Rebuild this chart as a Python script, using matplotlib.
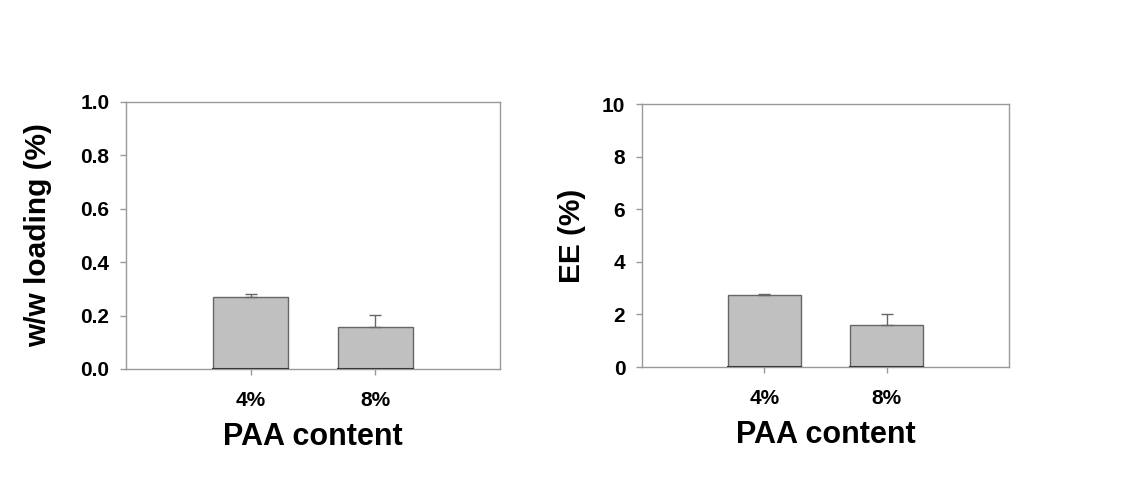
import numpy as np
import matplotlib.pyplot as plt

plt.rcParams['font.family'] = ['Liberation Sans', 'DejaVu Sans']
plt.rcParams['font.weight'] = 'bold'

categories = ['4%', '8%']
loading = [0.271, 0.158]
loading_err = [0.010, 0.044]
ee = [2.74, 1.60]
ee_err = [0.03, 0.40]


def draw_panel(ax, values, errs, ymax, yticks, ylabel, ylab_x, xlab_y):
    x = np.arange(1, len(categories) + 1)
    ax.bar(x, values, width=0.6, color='#c0c0c0', edgecolor='#666666', linewidth=1.0)
    ax.errorbar(x, values, yerr=[np.zeros(len(errs)), errs], fmt='none',
                ecolor='#666666', elinewidth=1.0, capsize=4, capthick=1.0)
    ax.plot([x - 0.3, x + 0.3], [0, 0], color='#222222', lw=1.5)
    ax.set_xlim(0, 3)
    ax.set_ylim(0, ymax)
    ax.set_xticks(x)
    ax.set_xticklabels(categories, fontsize=15, fontweight='bold')
    ax.set_yticks(yticks)
    ax.set_yticklabels(['{:g}'.format(t) if ymax > 1 else '{:.1f}'.format(t) for t in yticks],
                       fontsize=15, fontweight='bold')
    ax.set_xlabel('PAA content', fontsize=22, fontweight='bold', va='center')
    ax.set_ylabel(ylabel, fontsize=21.5, fontweight='bold', va='center')
    ax.xaxis.set_label_coords(0.5, xlab_y)
    ax.yaxis.set_label_coords(ylab_x, 0.5)
    for s in ax.spines.values():
        s.set_color('#999999')
        s.set_linewidth(1.0)
    ax.tick_params(axis='both', direction='out', length=4, color='#999999', width=1.0, pad=8)
    ax.tick_params(axis='x', pad=12)


fig = plt.figure(figsize=(11.27, 4.91), dpi=100)
ax1 = fig.add_axes([0.1118, 0.2485, 0.332, 0.5438])
ax2 = fig.add_axes([0.5696, 0.2525, 0.3256, 0.5356])

draw_panel(ax1, loading, loading_err, 1.0, [0.0, 0.2, 0.4, 0.6, 0.8, 1.0], 'w/w loading (%)', -0.235, -0.255)
draw_panel(ax2, ee, ee_err, 10, [0, 2, 4, 6, 8, 10], 'EE (%)', -0.19, -0.259)

fig.savefig('out.png', dpi=100)
